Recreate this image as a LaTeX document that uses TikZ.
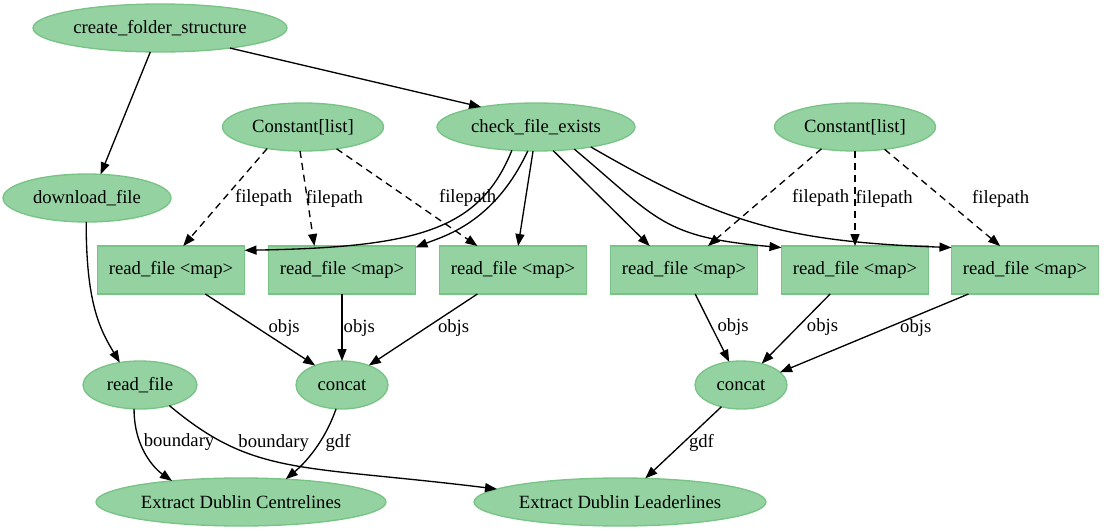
\documentclass[tikz,border=0pt]{standalone}
\usepackage{fontspec}
\setmainfont{Liberation Serif}
\usetikzlibrary{shapes.geometric,arrows.meta,positioning}

\definecolor{nodefill}{RGB}{148,210,161}
\definecolor{nodeline}{RGB}{120,195,134}

\begin{document}
\begin{tikzpicture}[x=1pt, y=1pt, >={Triangle[length=12pt,width=9pt]},
    line width=1.33pt, font=\fontsize{18.67}{22}\selectfont,
    node distance=24pt,
    fn/.style={ellipse, draw=nodeline, fill=nodefill, inner sep=0pt,
      outer sep=0pt, minimum height=48pt},
    mapbox/.style={rectangle, draw=nodeline, fill=nodefill, inner sep=0pt,
      outer sep=0pt, minimum width=147pt, minimum height=48pt},
    lbl/.style={inner sep=0pt, anchor=west},
    cst/.style={->, dash pattern=on 7pt off 5pt}]
  \useasboundingbox (0,0) rectangle (1104,-532);

  % function nodes
  \node [fn, minimum width=254pt] (cfs) at (160,-28)  {create\_folder\_structure};
  \node [fn, minimum width=168pt] (dl)  at (87,-198)  {download\_file};
  \node [fn, minimum width=161pt] (cl1) at (303,-127) {Constant[list]};
  \node [fn, minimum width=198pt] (cfe) at (536,-127) {check\_file\_exists};
  \node [fn, minimum width=161pt] (cl2) at (855,-127) {Constant[list]};

  % mapped readers
  \node [mapbox] (b1) at (171,-270) {read\_file <map>};
  \node [mapbox] [right=of b1] (b2) {read\_file <map>};
  \node [mapbox] [right=of b2] (b3) {read\_file <map>};
  \node [mapbox] [right=of b3] (b4) {read\_file <map>};
  \node [mapbox] [right=of b4] (b5) {read\_file <map>};
  \node [mapbox] [right=23pt of b5] (b6) {read\_file <map>};

  \node [fn, minimum width=114pt] (rf)  at (140,-385) {read\_file};
  \node [fn, minimum width=92pt]  (cc1) at (342,-385) {concat};
  \node [fn, minimum width=92pt]  (cc2) at (741,-385) {concat};
  \node [fn, minimum width=290pt] (ec)  at (241,-502) {Extract Dublin Centrelines};
  \node [fn, minimum width=292pt] (el)  at (620,-502) {Extract Dublin Leaderlines};

  \path[->] (cfs.-112) edge (dl.60)
            (cfs.-16)  edge (cfe.160);
  \path[->] (cfe.-136) edge [out=-112, in=1, out distance=86pt, in distance=173pt] (b1.15)
            (cfe.-109) edge [out=-115, in=22, out distance=80pt, in distance=30pt] (b2.17)
            (cfe.-97)  edge (b3.78)
            (cfe.-54)  edge (b4.145)
            (cfe.-30)  edge [out=-40, in=175, out distance=110pt, in distance=120pt] (b5.163)
            (cfe.-20)  edge [out=-30, in=178, out distance=150pt, in distance=170pt] (b6.163);

  % constant inputs
  \path (cl1.-149) edge [cst] node [lbl, pos=0.51, xshift=10pt] {filepath} (b1.63)
        (cl1.-97)  edge [cst] node [lbl, pos=0.5, xshift=-2pt] {filepath} (b2.139)
        (cl1.-33)  edge [cst] node [lbl, pos=0.51, xshift=30pt] {filepath} (b3.146)
        (cl2.-147) edge [cst] node [lbl, pos=0.51, xshift=28pt] {filepath} (b4.45)
        (cl2.south) edge [cst] node [lbl, pos=0.5] {filepath} (b5.north)
        (cl2.-37)  edge [cst] node [lbl, pos=0.51, xshift=28pt] {filepath} (b6.136);

  \path[->] (b1.-35)   edge node [lbl, pos=0.47, xshift=11pt] {objs} (cc1.144)
            (b2.south) edge node [lbl, pos=0.51, xshift=1pt] {objs} (cc1.north)
            (b3.-146)  edge node [lbl, pos=0.47, xshift=11pt] {objs} (cc1.36)
            (b4.-65)   edge node [lbl, pos=0.49, xshift=5pt] {objs} (cc2.117)
            (b5.-136)  edge node [lbl, pos=0.48, xshift=9pt] {objs} (cc2.46)
            (b6.-157)  edge node [lbl, pos=0.44, xshift=14pt] {objs} (cc2.18);

  \path[->] (dl.-92) edge [out=-90, in=121, out distance=80pt, in distance=40pt] (rf.132)
            (rf.-104) edge [out=-90, in=145, out distance=40pt, in distance=20pt]
              node [lbl, pos=0.33, xshift=3pt] {boundary} (ec.163)
            (rf.-35) edge [out=-40, in=173, out distance=110pt, in distance=200pt]
              node [lbl, pos=0.3, xshift=-2pt, yshift=7pt] {boundary} (el.174)
            (cc1.-104) edge [out=-109, in=40, out distance=35pt, in distance=25pt]
              node [lbl, pos=0.4, xshift=6pt] {gdf} (ec.27)
            (cc2.-132) edge node [lbl, pos=0.5, xshift=5pt] {gdf} (el.43);
\end{tikzpicture}
\end{document}
